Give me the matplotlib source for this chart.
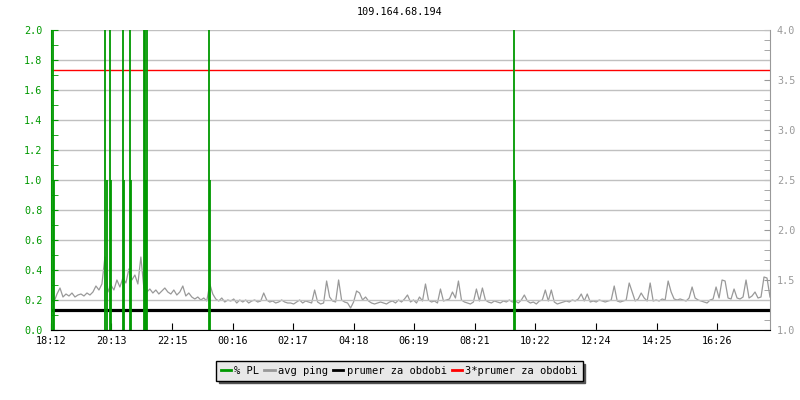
import matplotlib
matplotlib.use("Agg")
import matplotlib.pyplot as plt
from matplotlib.lines import Line2D
import numpy as np

# x axis = minutes from 18:12, one ping sample every 6 minutes
tick_minutes = [0, 121, 243, 364, 485, 606, 727, 849, 970, 1092, 1213, 1334]
tick_labels = ["18:12", "20:13", "22:15", "00:16", "02:17", "04:18",
               "06:19", "08:21", "10:22", "12:24", "14:25", "16:26"]

ping_step = 6
avg_ping = [
    1.30, 1.28, 1.36, 1.42, 1.33, 1.36, 1.34, 1.37, 1.33, 1.35,
    1.36, 1.34, 1.37, 1.35, 1.38, 1.44, 1.40, 1.46, 1.73, 1.38,
    1.45, 1.40, 1.50, 1.43, 1.52, 1.47, 1.61, 1.50, 1.55, 1.46,
    1.73, 1.42, 1.38, 1.41, 1.37, 1.40, 1.36, 1.39, 1.42, 1.38,
    1.36, 1.40, 1.35, 1.38, 1.44, 1.34, 1.37, 1.33, 1.31, 1.33,
    1.30, 1.32, 1.29, 1.46, 1.36, 1.31, 1.29, 1.32, 1.28, 1.30,
    1.29, 1.31, 1.27, 1.30, 1.28, 1.30, 1.27, 1.29, 1.30, 1.28,
    1.29, 1.37, 1.30, 1.28, 1.29, 1.27, 1.28, 1.30, 1.28, 1.27,
    1.27, 1.26, 1.28, 1.30, 1.27, 1.29, 1.28, 1.27, 1.40, 1.28,
    1.26, 1.27, 1.49, 1.33, 1.29, 1.28, 1.50, 1.30, 1.28, 1.27,
    1.22, 1.28, 1.39, 1.37, 1.30, 1.33, 1.29, 1.27, 1.26, 1.27,
    1.28, 1.27, 1.26, 1.28, 1.29, 1.27, 1.30, 1.28, 1.31, 1.35,
    1.28, 1.30, 1.27, 1.33, 1.29, 1.46, 1.30, 1.28, 1.29, 1.27,
    1.41, 1.29, 1.30, 1.31, 1.38, 1.32, 1.49, 1.30, 1.28, 1.27,
    1.26, 1.28, 1.41, 1.29, 1.42, 1.30, 1.28, 1.27, 1.29, 1.28,
    1.27, 1.29, 1.28, 1.30, 1.28, 1.29, 1.27, 1.30, 1.35, 1.29,
    1.27, 1.28, 1.26, 1.29, 1.30, 1.40, 1.29, 1.40, 1.28, 1.26,
    1.27, 1.28, 1.29, 1.28, 1.30, 1.29, 1.31, 1.36, 1.29, 1.36,
    1.28, 1.29, 1.28, 1.30, 1.29, 1.28, 1.29, 1.30, 1.44, 1.29,
    1.28, 1.29, 1.30, 1.47, 1.38, 1.29, 1.31, 1.37, 1.32, 1.29,
    1.47, 1.29, 1.30, 1.29, 1.31, 1.30, 1.49, 1.38, 1.31, 1.30,
    1.31, 1.30, 1.29, 1.32, 1.43, 1.32, 1.30, 1.29, 1.28, 1.27,
    1.30, 1.31, 1.43, 1.32, 1.50, 1.49, 1.32, 1.31, 1.41, 1.32,
    1.31, 1.33, 1.50, 1.32, 1.34, 1.38, 1.32, 1.33, 1.53, 1.52, 1.33,
]

# packet loss events (minute, % PL) - values at 2.0 are off the top
pl_minutes = [4.6, 7, 109, 112, 118, 120, 144, 145.5, 159, 161,
              187, 189, 191, 193, 316, 317.5, 928, 929.5]
pl_values = [2.0, 1.0, 2.0, 1.0, 2.0, 1.0, 2.0, 1.0, 2.0, 1.0,
             2.0, 2.0, 1.0, 2.0, 2.0, 1.0, 2.0, 1.0]

prumer = 1.2
green = "#009900"
grey = "#999999"
mono = "DejaVu Sans Mono"
fs = 7.3

fig = plt.figure(figsize=(8, 4), dpi=100)
ax = fig.add_axes([51 / 800, 0.175, 719 / 800, 0.75])
ax2 = ax.twinx()
ax.set_zorder(ax2.get_zorder() + 1)
ax.patch.set_visible(False)

t = np.arange(len(avg_ping)) * ping_step
ax2.plot(t, avg_ping, color=grey, lw=0.9)
ax2.axhline(prumer, color="black", lw=2.3)
ax2.axhline(3 * prumer, color="red", lw=1.0)
ax2.set_ylim(1.0, 4.0)

ax.vlines(pl_minutes, 0, pl_values, color=green, lw=1.3)
ax.set_ylim(0, 2.0)
ax.set_xlim(0, 1440)

ax.set_yticks(np.arange(0, 2.01, 0.2))
ax.set_yticks(np.arange(0, 2.01, 0.1), minor=True)
ax.set_yticklabels(["%.1f" % v for v in np.arange(0, 2.01, 0.2)],
                   color=green, family=mono, fontsize=fs)
ax.yaxis.grid(True, color="#c0c0c0", lw=1)
ax.set_axisbelow(True)
ax.tick_params(axis="y", which="both", direction="in", length=5, color=green, pad=6)

ax.set_xticks(tick_minutes)
ax.set_xticklabels(tick_labels, family=mono, fontsize=fs)
ax.tick_params(axis="x", direction="in", length=5, pad=4)

ax2.set_yticks(np.arange(1.0, 4.01, 0.5))
ax2.set_yticks(np.arange(1.0, 4.01, 0.1), minor=True)
ax2.set_yticklabels(["%.1f" % v for v in np.arange(1.0, 4.01, 0.5)],
                    color=grey, family=mono, fontsize=fs)
ax2.tick_params(axis="y", which="both", direction="in", length=4, color=grey, pad=5)

for a in (ax, ax2):
    a.spines["top"].set_visible(False)
ax.spines["left"].set_color(green)
ax.spines["right"].set_visible(False)
ax2.spines["left"].set_visible(False)
ax2.spines["bottom"].set_visible(False)
ax2.spines["right"].set_color(grey)

fig.text(0.5, 1 - 12 / 400, "109.164.68.194", ha="center", va="center",
         family=mono, fontsize=fs)

handles = [Line2D([], [], color=green, lw=2),
           Line2D([], [], color=grey, lw=2),
           Line2D([], [], color="black", lw=2),
           Line2D([], [], color="red", lw=2)]
names = ["% PL", "avg ping", "prumer za obdobi", "3*prumer za obdobi"]
leg = fig.legend(handles, names, loc="center", bbox_to_anchor=(0.499, 0.0725),
                 ncol=4, prop={"family": mono, "size": fs + 0.2},
                 handlelength=1.0, handletextpad=0.3, columnspacing=0.5,
                 fancybox=False, shadow={"color": "#555555", "alpha": 1},
                 framealpha=1, borderpad=0.45, borderaxespad=0)
leg.get_frame().set_facecolor("#e8e8e8")
leg.get_frame().set_edgecolor("black")
leg.get_frame().set_linewidth(1.0)

fig.savefig("out.png", dpi=100)
